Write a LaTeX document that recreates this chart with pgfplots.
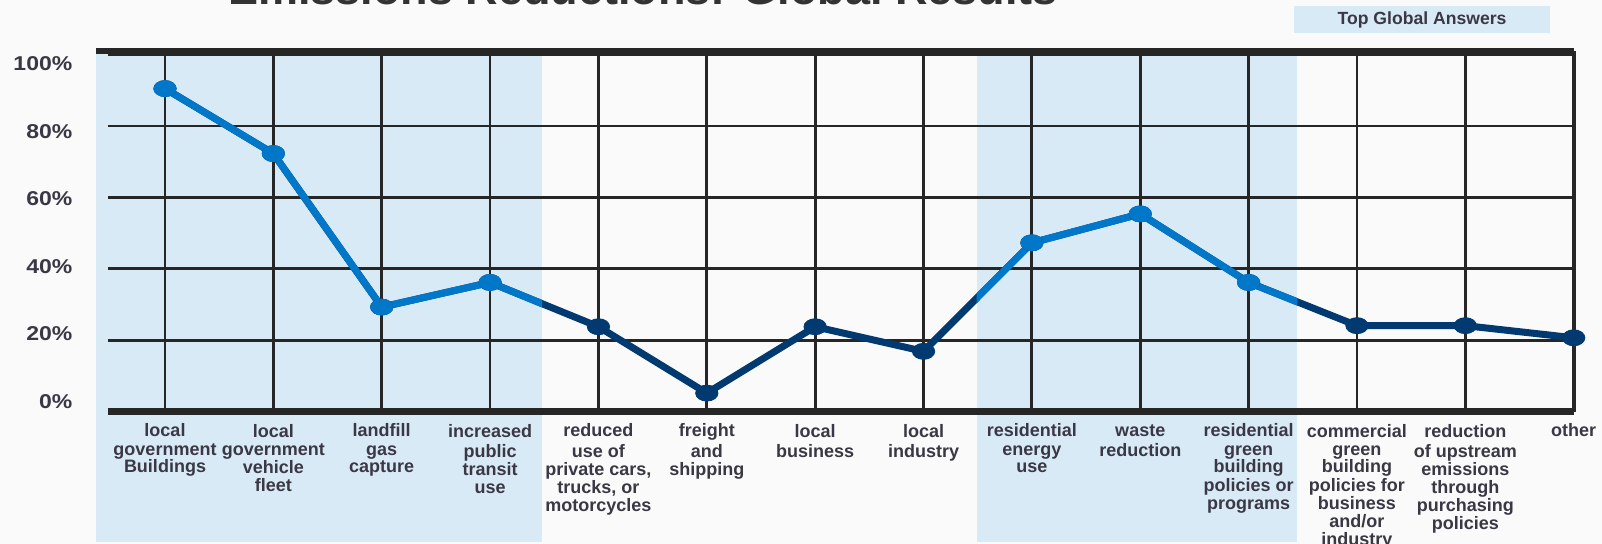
\documentclass[border=0pt]{standalone}
\usepackage{pgfplots}
\pgfplotsset{compat=1.18}
\usepackage{pgfplotstable}
\usepackage{fontspec}
\setmainfont{Liberation Sans}
\newfontfamily\tickfont{Liberation Sans}[FakeStretch=1.15]

\definecolor{shade}{HTML}{D9EAF7}
\definecolor{lightline}{HTML}{0077C8}
\definecolor{darkline}{HTML}{003A70}
\definecolor{gridc}{HTML}{262626}
\definecolor{txt}{RGB}{58,56,68}
\definecolor{titlec}{HTML}{333333}
\definecolor{bg}{HTML}{FAFAFA}
\pagecolor{bg}

% share of cities naming each reduction area (%)
\pgfplotstableread{
x y
0 90.5
1 72.3
2 29.3
3 36.2
4 23.8
5 5.2
6 23.8
7 16.9
8 47.3
9 55.4
10 36.2
11 24.1
12 24.1
13 20.7
}\answers

\begin{document}
\begin{tikzpicture}
\begin{axis}[
    set layers,
    scale only axis,
    width=732.85pt, height=180.3pt,
    at={(0,0)}, anchor=south west,
    xmin=-0.526, xmax=13,
    ymin=0, ymax=101,
    clip=false,
    axis line style={draw=none},
    xtick={0,...,13},
    ytick={0,20,...,100},
    yticklabels={},
    major tick length=0pt,
    grid=major,
    grid style={line width=1.4pt, color=gridc},
    typeset ticklabels with strut,
    xticklabels={
        {local\\government\\Buildings},
        {local\\government\\vehicle\\fleet},
        {landfill\\gas\\capture},
        {increased\\public\\transit\\use},
        {reduced\\use of\\private cars,\\trucks, or\\motorcycles},
        {freight\\and\\shipping},
        {local\\business},
        {local\\industry},
        {residential\\energy\\use},
        {waste\\reduction},
        {residential\\green\\building\\policies or\\programs},
        {commercial\\green\\building\\policies for\\business\\and/or\\industry},
        {reduction\\of upstream\\emissions\\through\\purchasing\\policies},
        {other}
    },
    xticklabel style={align=center, font=\fontsize{9}{9}\selectfont\bfseries,
        text=txt, anchor=north, yshift=-2.6pt},
]

% shaded "top global answers" bands
\addplot[fill=shade, draw=none, on layer=axis background]
    coordinates {(-0.637,-36.5) (3.48,-36.5) (3.48,101) (-0.637,101)} -- cycle;
\addplot[fill=shade, draw=none, on layer=axis background]
    coordinates {(7.49,-36.5) (10.45,-36.5) (10.45,101) (7.49,101)} -- cycle;

% dark line everywhere
\addplot[darkline, line width=3.5pt, line join=round, mark=*, mark size=4pt,
    mark options={line width=0.4pt, xscale=1.4}] table {\answers};

% light line only inside the bands
\begin{scope}
\clip (axis cs:-0.637,-40) rectangle (axis cs:3.48,110)
      (axis cs:7.49,-40) rectangle (axis cs:10.45,110);
\addplot[lightline, line width=3.5pt, line join=round] table {\answers};
\end{scope}

% light markers for the answers inside the bands
\addplot[only marks, mark=*, mark size=4pt, color=lightline,
    mark options={line width=0.4pt, xscale=1.4},
    restrict x to domain=0:3] table {\answers};
\addplot[only marks, mark=*, mark size=4pt, color=lightline,
    mark options={line width=0.4pt, xscale=1.4},
    restrict x to domain=8:10] table {\answers};

% frame
\draw[gridc, line width=2.6pt] (axis cs:-0.637,101) -- (axis cs:13,101);
\draw[gridc, line width=3.3pt] (axis cs:-0.526,0) -- (axis cs:13,0);
\draw[gridc, line width=1.8pt] (axis cs:13,0) -- (axis cs:13,101);
\end{axis}

% y labels sit on a slightly tighter scale than the grid
\begin{axis}[
    scale only axis,
    width=732.85pt, height=180.3pt,
    at={(0,0)}, anchor=south west,
    xmin=-0.526, xmax=13,
    ymin=-2.96, ymax=103.73,
    axis line style={draw=none},
    xtick=\empty,
    ytick={0,20,...,100},
    major tick length=0pt,
    yticklabels={0\%,20\%,40\%,60\%,80\%,100\%},
    yticklabel style={font=\tickfont\bfseries\fontsize{10}{10}\selectfont,
        text=txt, anchor=east, inner sep=0pt, xshift=-17.65pt},
]
\end{axis}

\node[anchor=base west, inner sep=0pt, text=titlec,
    font=\fontsize{22.5}{22.5}\selectfont\bfseries] at (60pt,203.35pt)
    {Emissions Reductions: Global Results};

\node[fill=shade, minimum width=128pt, minimum height=13.5pt, inner sep=0pt,
    text=txt, font=\fontsize{8.8}{8.8}\selectfont\bfseries] at (657pt,196.1pt)
    {Top Global Answers};

\pgfresetboundingbox
\useasboundingbox (-54pt,-66.15pt) rectangle (747pt,205.85pt);
\end{tikzpicture}
\end{document}
